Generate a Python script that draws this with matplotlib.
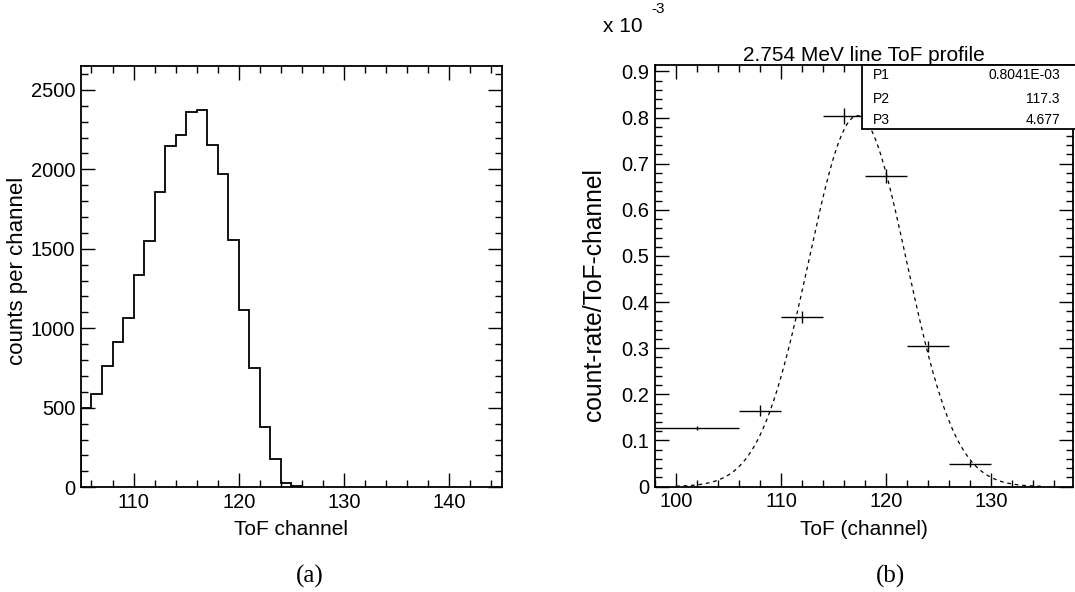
import numpy as np
import matplotlib.pyplot as plt
from matplotlib.ticker import MultipleLocator

plt.rcParams['font.family'] = ['Liberation Sans', 'DejaVu Sans']

# (a) ToF histogram
edges = list(range(105, 127))
counts = [496, 584, 760, 911, 1062, 1332, 1549, 1859, 2144, 2217, 2359,
          2376, 2150, 1970, 1555, 1112, 747, 377, 176, 29, 6]

# (b) line ToF profile, values in units of 1e-3
tof = [102, 108, 112, 116, 120, 124, 128]
tof_err = [4, 2, 2, 2, 2, 2, 2]
rate = [0.127, 0.165, 0.368, 0.804, 0.674, 0.304, 0.049]
rate_err = [0.004, 0.012, 0.013, 0.017, 0.015, 0.012, 0.006]

# gaussian fit parameters shown in the stats box
p1 = 0.8041e-3
p2 = 117.3
p3 = 4.677


def root_style(ax, size):
    ax.tick_params(which='both', direction='in', top=True, right=True,
                   labelsize=size, colors='black', pad=4)
    ax.tick_params(which='major', length=10, width=1)
    ax.tick_params(which='minor', length=5, width=1)
    for s in ax.spines.values():
        s.set_linewidth(1.3)


fig = plt.figure(figsize=(10.75, 5.92), dpi=100)

ax1 = fig.add_axes([0.0753, 0.177, 0.3917, 0.7115])
ax1.stairs(counts, edges, color='black', linewidth=1.3)
ax1.set_xlim(105, 145)
ax1.set_ylim(0, 2650)
ax1.xaxis.set_major_locator(MultipleLocator(10))
ax1.xaxis.set_minor_locator(MultipleLocator(2))
ax1.yaxis.set_major_locator(MultipleLocator(500))
ax1.yaxis.set_minor_locator(MultipleLocator(100))
root_style(ax1, 14.5)
ax1.set_xlabel('ToF channel', fontsize=15, labelpad=6)
fig.text(0.0163, 0.543, 'counts per channel', rotation=90, fontsize=16,
         ha='center', va='center')

ax2 = fig.add_axes([0.6093, 0.178, 0.3887, 0.713])
x = np.linspace(100, 135, 300)
ax2.plot(x, p1 / 1e-3 * np.exp(-0.5 * ((x - p2) / p3) ** 2), color='black',
         linestyle=(0, (3, 3)), linewidth=0.9)
ax2.errorbar(tof, rate, xerr=tof_err, yerr=rate_err, fmt='none',
             ecolor='black', elinewidth=1, capsize=0)
ax2.set_xlim(98, 137.8)
ax2.set_ylim(0, 0.915)
ax2.xaxis.set_major_locator(MultipleLocator(10))
ax2.xaxis.set_minor_locator(MultipleLocator(2))
ax2.yaxis.set_major_locator(MultipleLocator(0.1))
ax2.yaxis.set_minor_locator(MultipleLocator(0.02))
ax2.yaxis.set_major_formatter(lambda v, pos: '0' if abs(v) < 1e-9 else f'{v:.1f}')
root_style(ax2, 14.5)
ax2.set_xlabel('ToF (channel)', fontsize=15, labelpad=6)
ax2.set_title('2.754 MeV line ToF profile', fontsize=15, pad=2)
fig.text(0.5526, 0.503, 'count-rate/ToF-channel', rotation=90, fontsize=17.7,
         ha='center', va='center')
fig.text(0.561, 0.956, 'x 10', fontsize=15, ha='left', va='center')
fig.text(0.606, 0.984, '-3', fontsize=11, ha='left', va='center')

# stats box
box = plt.Rectangle((0.802, 0.782), 0.2, 0.109, transform=fig.transFigure,
                    facecolor='white', edgecolor='black', linewidth=1.3,
                    zorder=5)
fig.patches.append(box)
for yy, name, val in [(0.874, 'P1', '0.8041E-03'), (0.833, 'P2', '117.3'),
                      (0.797, 'P3', '4.677')]:
    fig.text(0.812, yy, name, fontsize=10, va='center', zorder=6)
    fig.text(0.986, yy, val, fontsize=10, va='center', ha='right', zorder=6)

fig.text(0.288, 0.027, '(a)', fontsize=18, family='Liberation Serif',
         ha='center', va='center')
fig.text(0.828, 0.027, '(b)', fontsize=18, family='Liberation Serif',
         ha='center', va='center')

fig.savefig('out.png', dpi=100)
